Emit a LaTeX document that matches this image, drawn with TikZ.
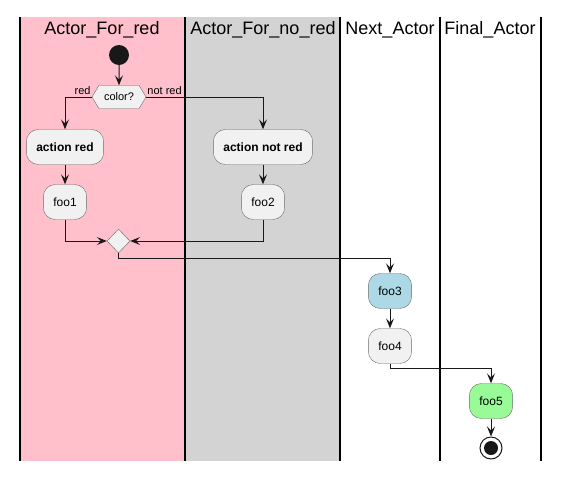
\documentclass[tikz,border=0pt]{standalone}
\usepackage{fontspec}
\setmainfont{Liberation Sans}
\usetikzlibrary{positioning, arrows.meta, shapes.geometric, shapes.symbols}

\definecolor{lanered}{HTML}{FFC0CB}
\definecolor{lanegray}{HTML}{D3D3D3}
\definecolor{actfill}{HTML}{F1F1F1}
\definecolor{actborder}{HTML}{6A6A6A}
\definecolor{linecol}{HTML}{181818}
\definecolor{foothree}{HTML}{ADD8E6}
\definecolor{foofive}{HTML}{98FB98}

\begin{document}
\begin{tikzpicture}[
    x=1pt, y=-1pt,
    lane/.style={line width=1.4pt, black},
    title/.style={
        font=\fontsize{18}{20}\selectfont,
        inner sep=0pt
    },
    action/.style={
        draw=actborder, fill=actfill,
        rounded corners=12pt,
        minimum height=35pt,
        inner xsep=10pt,
        font=\fontsize{12}{14}\selectfont
    },
    guard/.style={
        font=\fontsize{11}{13}\selectfont,
        inner sep=0pt
    },
    flow/.style={
        linecol, line width=1pt,
        -{Stealth[length=10pt, width=8pt, inset=4pt]}
    }
]

\useasboundingbox (0, 0) rectangle (567, 480);

% Swimlanes
\fill[lanered] (20, 17) rectangle (185, 461);
\fill[lanegray] (185, 17) rectangle (340, 461);
\draw[lane] (20, 17) -- (20, 461);
\draw[lane] (185, 17) -- (185, 461);
\draw[lane] (340, 17) -- (340, 461);
\draw[lane] (440, 17) -- (440, 461);
\draw[lane] (541, 17) -- (541, 461);

\node[title] (lred) at (102, 30) {Actor\_For\_red};
\node[title] (lnored) at (263, 30) {Actor\_For\_no\_red};
\node[title] (lnext) at (390, 30) {Next\_Actor};
\node[title] (lfinal) at (490, 30) {Final\_Actor};

% Start and decision
\node[circle, fill=linecol, minimum size=20pt, inner sep=0pt] (start) at (119, 55) {};
\node[signal, signal to=east and west, signal pointer angle=118,
      draw=actborder, fill=actfill, minimum width=54pt, minimum height=23pt,
      inner sep=1pt, font=\fontsize{11}{13}\selectfont] (color) at (119, 97) {color?};
\node[guard, anchor=base east] (redlbl) at ([shift={(-1, -3)}]color.west) {red};
\node[guard, anchor=base west] (notredlbl) at ([shift={(1, -3)}]color.east) {not red};

% Actions
\node[action, font=\bfseries\fontsize{12}{14}\selectfont] (actred) at (65, 147) {action red};
\node[action, font=\bfseries\fontsize{12}{14}\selectfont] (actnotred) at (263, 147) {action not red};
\node[action] (foo1) at (65, 202) {foo1};
\node[action] (foo2) at (263, 202) {foo2};
\node[diamond, draw=actborder, fill=actfill, minimum width=23pt, minimum height=24pt, inner sep=0pt] (merge) at (118.5, 241) {};
\node[action, fill=foothree] (foo3) at (390, 291) {foo3};
\node[action] (foo4) at (390, 346) {foo4};
\node[action, fill=foofive] (foo5) at (491, 401) {foo5};

% End
\node[circle, draw=linecol, line width=1pt, fill=white, minimum size=22pt, inner sep=0pt] (stop) at (491, 448) {};
\node[circle, fill=linecol, minimum size=14pt, inner sep=0pt] (stopdot) at (stop) {};

% Flow
\draw[flow] (start) -- (color);
\draw[flow] (color.west) -| (actred.north);
\draw[flow] (color.east) -| (actnotred.north);
\draw[flow] (actred) -- (foo1);
\draw[flow] (actnotred) -- (foo2);
\draw[flow] (foo1.south) |- (merge.west);
\draw[flow] (foo2.south) |- (merge.east);
\draw[flow] (merge.south) -- ++(0, 5) -| (foo3.north);
\draw[flow] (foo3) -- (foo4);
\draw[flow] (foo4.south) -- ++(0, 5) -| (foo5.north);
\draw[flow] (foo5) -- (stop);

\end{tikzpicture}
\end{document}
